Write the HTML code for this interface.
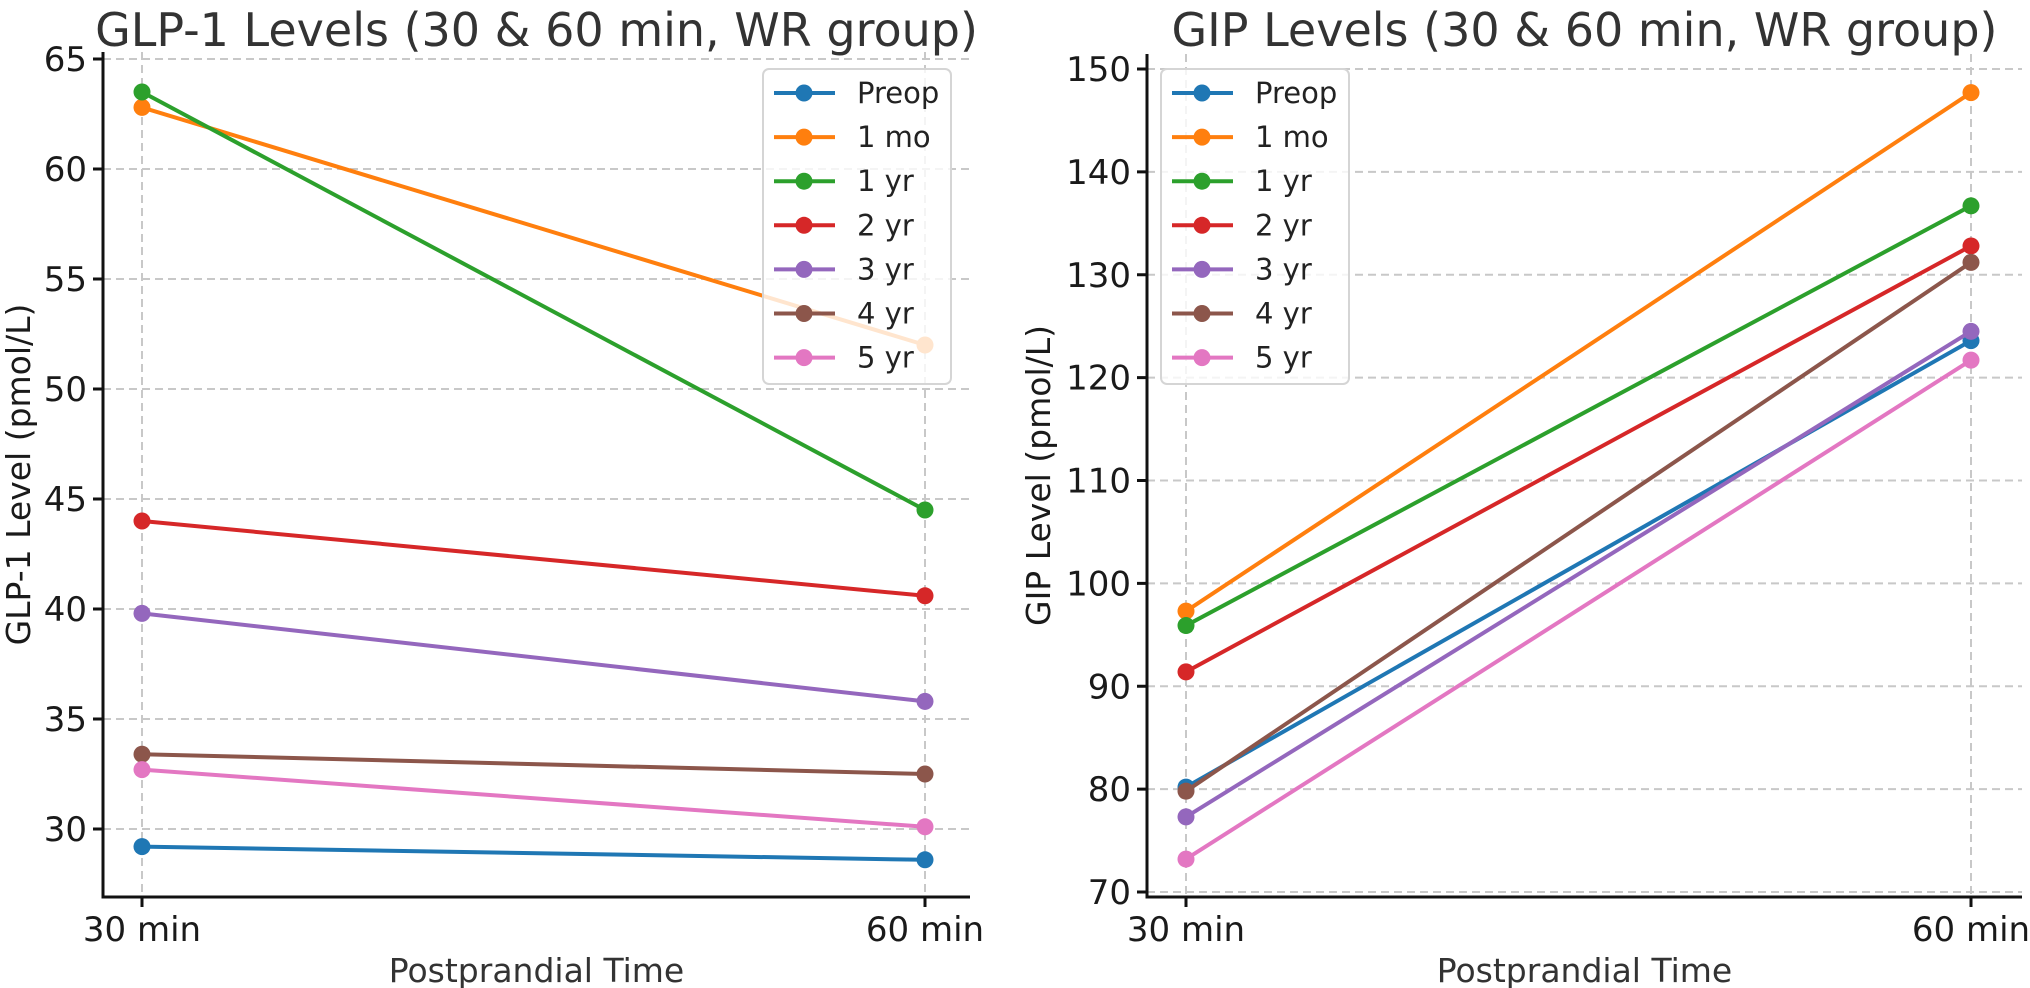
<!DOCTYPE html>
<html><head><meta charset="utf-8"><style>
body{margin:0;background:#fff;}
svg{display:block;font-family:"DejaVu Sans","Liberation Sans",sans-serif;}
</style></head><body>
<svg id="chart" width="2030" height="988" viewBox="0 0 2030 988" xmlns="http://www.w3.org/2000/svg"></svg>
<script>
const categories = ["30 min", "60 min"];
const seriesNames = ["Preop", "1 mo", "1 yr", "2 yr", "3 yr", "4 yr", "5 yr"];
const colors = ["#1f77b4", "#ff7f0e", "#2ca02c", "#d62728", "#9467bd", "#8c564b", "#e377c2"];
const glpPreop = [29.2, 28.6];
const glp1mo = [62.8, 52.0];
const glp1yr = [63.5, 44.5];
const glp2yr = [44.0, 40.6];
const glp3yr = [39.8, 35.8];
const glp4yr = [33.4, 32.5];
const glp5yr = [32.7, 30.1];
const gipPreop = [80.2, 123.6];
const gip1mo = [97.3, 147.7];
const gip1yr = [95.9, 136.7];
const gip2yr = [91.4, 132.8];
const gip3yr = [77.3, 124.5];
const gip4yr = [79.8, 131.2];
const gip5yr = [73.2, 121.7];
const glpTicks = [30, 35, 40, 45, 50, 55, 60, 65];
const gipTicks = [70, 80, 90, 100, 110, 120, 130, 140, 150];

const NS = "http://www.w3.org/2000/svg";
const svg = document.getElementById("chart");
function mk(tag, attrs, parent) {
  const e = document.createElementNS(NS, tag);
  for (const k in attrs) e.setAttribute(k, attrs[k]);
  (parent || svg).appendChild(e);
  return e;
}

function drawPanel(p) {
  const g = mk("g", {});
  
  
  const yS = v => p.y0px + (v - p.y0) * (p.y1px - p.y0px) / (p.y1 - p.y0);
  const xS = i => p.x0px + i * (p.x1px - p.x0px) / (categories.length - 1);
  p.ticks.forEach(t => {
    const l = mk("line", {x1: p.left, x2: p.right, y1: yS(t), y2: yS(t), stroke: "#c8c8c8", "stroke-width": 2, "stroke-dasharray": "8,5"}, g);
    
    
  });
  categories.forEach((c, i) => {
    const l = mk("line", {x1: xS(i), x2: xS(i), y1: p.top, y2: p.bottom, stroke: "#c8c8c8", "stroke-width": 2, "stroke-dasharray": "8,5"}, g);
    
    
  });
  p.data.forEach((d, si) => {
    const sg = mk("g", {}, g);
    
    
    const pts = d.map((v, i) => xS(i) + "," + yS(v)).join(" ");
    const pl = mk("polyline", {points: pts, fill: "none", stroke: colors[si], "stroke-width": 4}, sg);
    
    
    d.forEach((v, i) => {
      const c = mk("circle", {cx: xS(i), cy: yS(v), r: 8.5, fill: colors[si]}, sg);
      
      
    });
  });
  const ax = mk("path", {d: `M${p.left},${p.top} L${p.left},${p.bottom} L${p.right},${p.bottom}`, fill: "none", stroke: "#111", "stroke-width": 3}, g);
  
  
  p.ticks.forEach(t => {
    const tl = mk("line", {x1: p.left - 10, x2: p.left, y1: yS(t), y2: yS(t), stroke: "#111", "stroke-width": 3}, g);
    
    
    const tx = mk("text", {x: p.left - 16, y: yS(t) + 12, "text-anchor": "end", "font-size": 34, fill: "#1a1a1a"}, g);
    tx.textContent = t;
    
    
  });
  categories.forEach((c, i) => {
    const tl = mk("line", {x1: xS(i), x2: xS(i), y1: p.bottom, y2: p.bottom + 10, stroke: "#111", "stroke-width": 3}, g);
    
    
    const tx = mk("text", {x: xS(i), y: p.bottom + 44, "text-anchor": "middle", "font-size": 34, fill: "#1a1a1a"}, g);
    tx.textContent = c;
    
    
  });
  const xt = mk("text", {x: (p.left + p.right) / 2, y: 982, "text-anchor": "middle", "font-size": 33, fill: "#333"}, g);
  xt.textContent = "Postprandial Time";
  
  
  const yt = mk("text", {x: 0, y: 0, "text-anchor": "middle", "font-size": 33, fill: "#1a1a1a", transform: `translate(${p.ylabX},${(p.top + p.bottom) / 2}) rotate(-90)`}, g);
  yt.textContent = p.ylabel;
  
  
  const tt = mk("text", {x: (p.left + p.right) / 2, y: 46, "text-anchor": "middle", "font-size": 46, fill: "#333"}, g);
  tt.textContent = p.title;
  
  
  const lg = mk("g", {}, g);
  
  
  const lb = mk("rect", {x: p.legX, y: 69, width: 188, height: 315, rx: 6, fill: "rgba(255,255,255,0.8)", stroke: "#d5d5d5", "stroke-width": 2}, lg);
  
  
  seriesNames.forEach((n, i) => {
    const y = 93 + i * 44.1;
    const eg = mk("g", {}, lg);
    
    
    mk("line", {x1: p.legX + 11, x2: p.legX + 72, y1: y, y2: y, stroke: colors[i], "stroke-width": 4}, eg);
    mk("circle", {cx: p.legX + 41, cy: y, r: 8.5, fill: colors[i]}, eg);
    const t = mk("text", {x: p.legX + 94, y: y + 10, "font-size": 29, fill: "#222"}, eg);
    t.textContent = n;
  });
}

drawPanel({id: "glp1", title: "GLP-1 Levels (30 & 60 min, WR group)", ylabel: "GLP-1 Level (pmol/L)",
  left: 103, right: 970, top: 52, bottom: 897, x0px: 142, x1px: 925,
  y0: 60, y0px: 169, y1: 30, y1px: 829, ticks: glpTicks, ylabX: 30, legX: 763,
  data: [glpPreop, glp1mo, glp1yr, glp2yr, glp3yr, glp4yr, glp5yr]});
drawPanel({id: "gip", title: "GIP Levels (30 & 60 min, WR group)", ylabel: "GIP Level (pmol/L)",
  left: 1147, right: 2022, top: 54, bottom: 897, x0px: 1186, x1px: 1971,
  y0: 150, y0px: 69, y1: 70, y1px: 892, ticks: gipTicks, ylabX: 1050, legX: 1161,
  data: [gipPreop, gip1mo, gip1yr, gip2yr, gip3yr, gip4yr, gip5yr]});
</script>
</body></html>
